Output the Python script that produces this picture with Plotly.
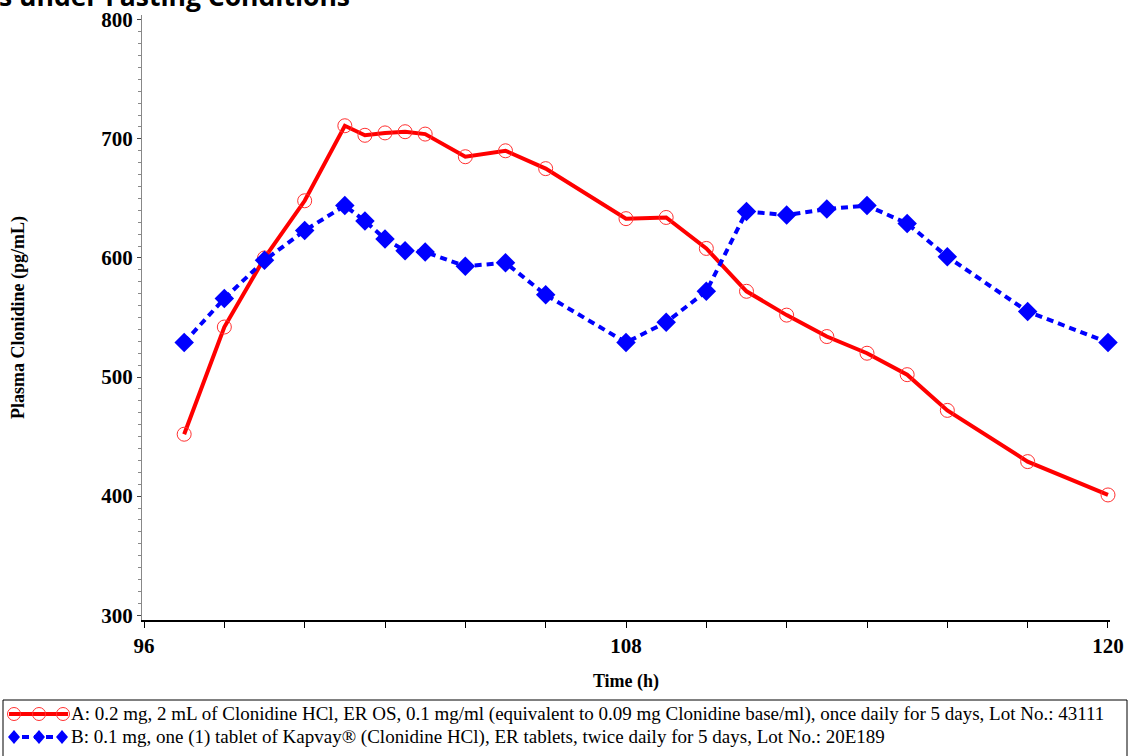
import plotly.graph_objects as go

time_h = [97, 98, 99, 100, 101, 101.5, 102, 102.5, 103, 104, 105, 106,
          108, 109, 110, 111, 112, 113, 114, 115, 116, 118, 120]
conc_a = [452, 542, 600, 648, 711, 703, 705, 706, 704, 685, 690, 675,
          633, 634, 608, 572, 552, 534, 520, 502, 472, 429, 401]
conc_b = [529, 566, 598, 623, 644, 631, 616, 606, 605, 593, 596, 569,
          529, 546, 572, 639, 636, 641, 644, 629, 601, 555, 529]

label_a = ("A: 0.2 mg, 2 mL of Clonidine HCl, ER OS, 0.1 mg/ml (equivalent to 0.09 mg "
           "Clonidine base/ml), once daily for 5 days, Lot No.: 43111")
label_b = ("B: 0.1 mg, one (1) tablet of Kapvay\u00ae (Clonidine HCl), ER tablets, "
           "twice daily for 5 days, Lot No.: 20E189")
x_ticks = [96, 108, 120]
y_ticks = [300, 400, 500, 600, 700, 800]
title_text = "s under Fasting Conditions"

SERIF = "Liberation Serif, Times New Roman, serif"
RED, BLUE = "#ff0000", "#0000ff"

fig = go.Figure()
fig.add_trace(go.Scatter(
    x=time_h, y=conc_a, name=label_a, mode="lines+markers", cliponaxis=False,
    line=dict(color=RED, width=4),
    marker=dict(symbol="circle-open", size=14, color="#ff3030",
                line=dict(width=1, color="#ff3030")),
))
fig.add_trace(go.Scatter(
    x=time_h, y=conc_b, name=label_b, mode="lines+markers", cliponaxis=False,
    line=dict(color=BLUE, width=4, dash="7px,5px"),
    marker=dict(symbol="diamond", size=15, color=BLUE),
))

W, H = 1130, 756
L, R, T, B = 142, 20, 15, 136
PW, PH = W - L - R, H - T - B


def px(xp):
    return (xp - L) / PW


def py(yp):
    return (H - B - yp) / PH


# custom legend (symbols drawn as shapes in paper coordinates)
shapes = [dict(
    type="rect", xref="paper", yref="paper",
    x0=px(3), x1=px(1127), y0=py(770), y1=py(700),
    line=dict(color="#000", width=1), fillcolor="rgba(0,0,0,0)", layer="above",
)]
ya, yb = 714, 737
shapes.append(dict(type="line", xref="paper", yref="paper", x0=px(9), x1=px(68),
                   y0=py(ya), y1=py(ya), line=dict(color=RED, width=4)))
for cx in (14, 39, 63):
    shapes.append(dict(type="circle", xref="paper", yref="paper",
                       x0=px(cx - 6.5), x1=px(cx + 6.5), y0=py(ya + 6.5), y1=py(ya - 6.5),
                       line=dict(color="#ff3030", width=1)))
shapes.append(dict(type="line", xref="paper", yref="paper", x0=px(10), x1=px(66),
                   y0=py(yb), y1=py(yb), line=dict(color=BLUE, width=4, dash="7px,5px")))
for cx in (14, 39, 62):
    d = (f"M {px(cx - 6)} {py(yb)} L {px(cx)} {py(yb - 7)} "
         f"L {px(cx + 6)} {py(yb)} L {px(cx)} {py(yb + 7)} Z")
    shapes.append(dict(type="path", xref="paper", yref="paper", path=d,
                       fillcolor=BLUE, line=dict(color=BLUE, width=0)))

annotations = [
    dict(text="<b>" + title_text + "</b>", xref="paper", yref="paper",
         x=px(0), y=1, xanchor="left", yanchor="bottom", yshift=-1, xshift=-3,
         showarrow=False, font=dict(family="Open Sans, sans-serif", size=26.5, color="#000")),
    dict(text="<b>Plasma Clonidine (pg/mL)</b>", xref="paper", yref="paper",
         x=px(18), y=py(318), xanchor="center", yanchor="middle", textangle=-90,
         showarrow=False, font=dict(family=SERIF, size=18, color="#000")),
    dict(text=label_a, xref="paper", yref="paper", x=px(69), y=py(ya),
         xanchor="left", yanchor="middle", showarrow=False,
         font=dict(family=SERIF, size=19, color="#000")),
    dict(text=label_b, xref="paper", yref="paper", x=px(69), y=py(yb),
         xanchor="left", yanchor="middle", showarrow=False,
         font=dict(family=SERIF, size=19, color="#000")),
]

fig.update_layout(
    width=W, height=H,
    margin=dict(l=L, r=R, t=T, b=B, autoexpand=False),
    paper_bgcolor="white", plot_bgcolor="white",
    showlegend=False,
    xaxis=dict(
        range=[95.95, 120.05], tickvals=x_ticks, ticktext=[str(v) for v in x_ticks],
        showgrid=False, zeroline=False,
        showline=True, linecolor="#000", linewidth=1.5,
        ticks="outside", ticklen=6, tickcolor="#000",
        tickfont=dict(family=SERIF, size=21, color="#000", weight="bold"),
        minor=dict(dtick=2, tick0=96, ticks="outside", ticklen=6, tickcolor="#000", showgrid=False),
        title=dict(text="<b>Time (h)</b>", font=dict(family=SERIF, size=18, color="#000"), standoff=17),
    ),
    yaxis=dict(
        range=[296, 804], tickvals=y_ticks, ticktext=[str(v) for v in y_ticks],
        showgrid=False, zeroline=False,
        showline=True, linecolor="#888", linewidth=1,
        ticks="outside", ticklen=4, tickcolor="#444",
        tickfont=dict(family=SERIF, size=21, color="#000", weight="bold"),
        minor=dict(dtick=10, tick0=300, ticks="outside", ticklen=3, tickcolor="#888", showgrid=False),
    ),
    shapes=shapes,
    annotations=annotations,
)

fig.write_html("out.html")
